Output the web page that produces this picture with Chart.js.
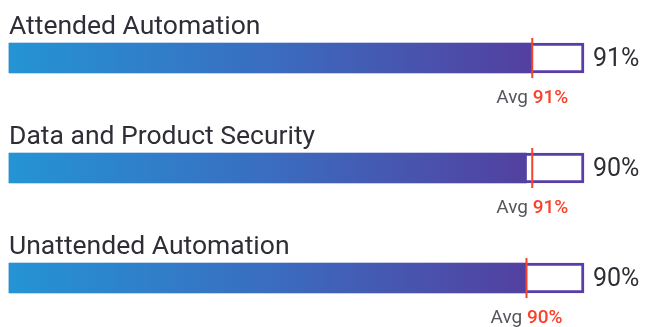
<!DOCTYPE html>
<html>
<head>
<meta charset="utf-8">
<script src="https://cdn.jsdelivr.net/npm/chart.js@4"></script>
<style>
  html, body { margin: 0; padding: 0; background: #fff; }
  #wrap { width: 647px; height: 327px; position: relative; }
</style>
</head>
<body>
<div id="wrap"><canvas id="c"></canvas></div>
<script>
const categories = ["Attended Automation", "Data and Product Security", "Unattended Automation"];
const scores = [91, 90, 90];
const averages = [91, 91, 90];
const full = [100, 100, 100];

const FONT = "Roboto, 'Open Sans', sans-serif";
const TEXT = "#2e2e36";
const RED = "#f8432c";
const PURPLE = "#5a3ea8";

function barGradient(ctx) {
  const { ctx: c, chartArea } = ctx.chart;
  if (!chartArea) return "#3a6fc0";
  const g = c.createLinearGradient(chartArea.left, 0, chartArea.right, 0);
  g.addColorStop(0, "#2494d4");
  g.addColorStop(0.45, "#3a6dc0");
  g.addColorStop(0.9, "#5340a0");
  g.addColorStop(1, "#563ea2");
  return g;
}

// labels, value, average marker
const annotate = {
  id: "annotate",
  afterDatasetsDraw(chart) {
    const { ctx } = chart;
    const x = chart.scales.x, y = chart.scales.y;
    ctx.save();
    categories.forEach((name, i) => {
      const cy = y.getPixelForValue(i);
      // category name
      ctx.font = "400 26.5px " + FONT;
      ctx.fillStyle = TEXT;
      ctx.textAlign = "left";
      ctx.textBaseline = "alphabetic";
      ctx.fillText(name, x.left, cy - 24);
      // score
      ctx.font = "400 25px " + FONT;
      ctx.textBaseline = "middle";
      ctx.fillText(scores[i] + "%", x.getPixelForValue(100) + 9, cy + 2);
      // average line
      const ax = x.getPixelForValue(averages[i]);
      ctx.strokeStyle = RED;
      ctx.lineWidth = 2;
      ctx.beginPath();
      ctx.moveTo(ax, cy - 20);
      ctx.lineTo(ax, cy + 20);
      ctx.stroke();
      // avg text
      const pre = "Avg ", val = averages[i] + "%";
      ctx.font = "400 19px " + FONT;
      const w1 = ctx.measureText(pre).width;
      ctx.font = "500 19px " + FONT;
      const w2 = ctx.measureText(val).width;
      let sx = ax - (w1 + w2) / 2;
      ctx.textBaseline = "alphabetic";
      ctx.font = "400 19px " + FONT;
      ctx.fillStyle = "#55555c";
      ctx.fillText(pre, sx, cy + 45);
      ctx.font = "500 19px " + FONT;
      ctx.fillStyle = RED;
      ctx.fillText(val, sx + w1, cy + 45);
    });
    ctx.restore();
  }
};

new Chart(document.getElementById("c"), {
  type: "bar",
  data: {
    labels: categories,
    datasets: [
      {
        data: full,
        backgroundColor: "#ffffff",
        borderColor: PURPLE,
        borderWidth: 3,
        borderSkipped: false,
        barThickness: 30,
        grouped: false,
        order: 2,
        clip: false,
      },
      {
        data: scores,
        backgroundColor: barGradient,
        borderWidth: 0,
        barThickness: 30,
        grouped: false,
        order: 1,
        clip: false,
      },
    ],
  },
  options: {
    indexAxis: "y",
    responsive: true,
    maintainAspectRatio: false,
    animation: false,
    layout: { padding: { left: 9, right: 63, top: 58, bottom: 49 } },
    plugins: { legend: { display: false }, tooltip: { enabled: false } },
    scales: {
      x: { min: 0, max: 100, display: false },
      y: { display: false, offset: false },
    },
  },
  plugins: [annotate],
});
</script>
</body>
</html>
